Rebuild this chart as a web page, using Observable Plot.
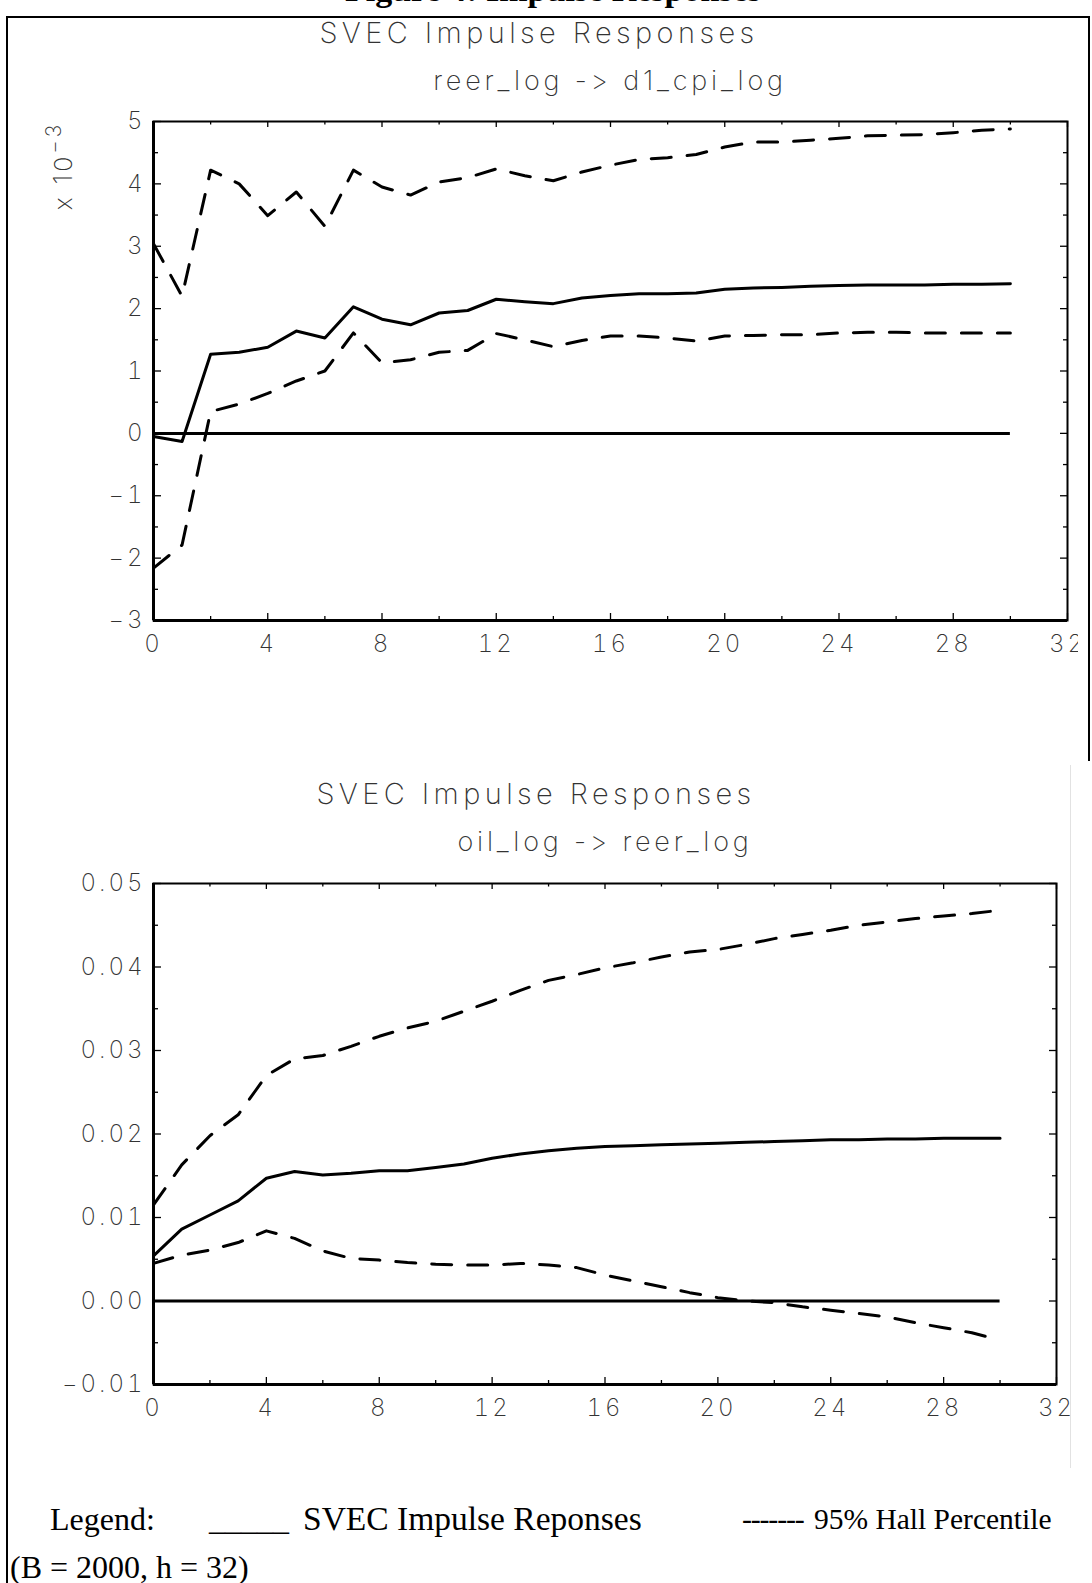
<!DOCTYPE html>
<html>
<head>
<meta charset="utf-8">
<script src="https://cdn.jsdelivr.net/npm/d3@7"></script>
<script src="https://cdn.jsdelivr.net/npm/@observablehq/plot@0.6"></script>
<style>
  html, body { margin: 0; padding: 0; background: #fff; }
  #page { position: relative; width: 1092px; height: 1583px; overflow: hidden; background: #fff; }
  .abs { position: absolute; }
  .top { z-index: 10; }
  .ptxt { font-family: Inter, Roboto, "DejaVu Sans", sans-serif; font-weight: 200; color: #333; white-space: pre; }
  .ctr { text-align: center; }
  .serif { font-family: "Liberation Serif", "DejaVu Serif", serif; color: #000; white-space: pre; }
</style>
</head>
<body>
<div id="page">
  <div class="abs" id="plot1" style="left:0;top:100px;"></div>
  <div class="abs" id="plot2" style="left:0;top:863px;"></div>

  <div class="abs serif top" style="left:345px;top:-27px;font-size:34px;line-height:34px;font-weight:bold;">Figure 4: Impulse Responses</div>
  <div class="abs top" style="left:6px;top:16px;width:1084px;height:0;border-top:2.5px solid #000;"></div>
  <div class="abs top" style="left:6px;top:16px;width:0;height:1583px;border-left:2.5px solid #000;"></div>
  <div class="abs top" style="left:1088px;top:16px;width:0;height:745px;border-left:2.5px solid #000;"></div>
  <div class="abs top" style="left:1070px;top:765px;width:0;height:703px;border-left:1px solid #e2e2e2;"></div>

  <div class="abs ptxt ctr top" id="t1" style="left:239px;width:600px;top:17px;font-size:29px;line-height:32px;letter-spacing:4.4px;"></div>
  <div class="abs ptxt ctr top" id="s1" style="left:310px;width:600px;top:65px;font-size:27px;line-height:32px;letter-spacing:3.8px;"></div>
  <div class="abs ptxt top" id="ylab1" style="left:64px;top:166px;font-size:25px;line-height:26px;letter-spacing:3px;transform:translate(-50%,-50%) rotate(-90deg);">x 10<span style="position:relative;top:-11px;font-size:21px;">−3</span></div>

  <div class="abs ptxt ctr top" id="t2" style="left:236px;width:600px;top:778px;font-size:29px;line-height:32px;letter-spacing:4.4px;"></div>
  <div class="abs ptxt ctr top" id="s2" style="left:305px;width:600px;top:826px;font-size:27px;line-height:32px;letter-spacing:3.8px;"></div>

  <div class="abs serif top" id="lg0" style="left:50px;top:1499px;font-size:32px;line-height:40px;"></div>
  <div class="abs serif top" id="lg1" style="left:209px;top:1499px;font-size:32px;line-height:40px;"></div>
  <div class="abs serif top" id="lg2" style="left:303px;top:1499px;font-size:33.5px;line-height:40px;"></div>
  <div class="abs serif top" id="lg3" style="left:742px;top:1499px;font-size:30px;line-height:40px;letter-spacing:-1.2px;"></div>
  <div class="abs serif top" id="lg4" style="left:814px;top:1499px;font-size:29.5px;line-height:40px;"></div>
  <div class="abs serif top" id="lg5" style="left:10px;top:1547px;font-size:32px;line-height:40px;"></div>
</div>
<script>
// ---------------- data ----------------
const horizons = [0,1,2,3,4,5,6,7,8,9,10,11,12,13,14,15,16,17,18,19,20,21,22,23,24,25,26,27,28,29,30];

// Panel 1: reer_log -> d1_cpi_log (values in units of 10^-3)
const irf1   = [-0.05,-0.13,1.27,1.30,1.38,1.64,1.53,2.03,1.83,1.74,1.93,1.97,2.15,2.11,2.08,2.17,2.21,2.24,2.24,2.25,2.31,2.33,2.34,2.36,2.37,2.38,2.38,2.38,2.39,2.39,2.40];
const upper1 = [3.04,2.20,4.22,4.00,3.49,3.87,3.32,4.22,3.95,3.82,4.03,4.10,4.24,4.13,4.05,4.19,4.30,4.39,4.42,4.47,4.59,4.67,4.67,4.70,4.73,4.77,4.78,4.79,4.82,4.86,4.88];
const lower1 = [-2.16,-1.79,0.35,0.47,0.64,0.84,1.00,1.61,1.13,1.18,1.30,1.33,1.60,1.50,1.39,1.49,1.56,1.56,1.53,1.48,1.56,1.57,1.58,1.58,1.61,1.62,1.62,1.61,1.61,1.61,1.61];

// Panel 2: oil_log -> reer_log
const irf2   = [0.0054,0.0086,0.0103,0.0120,0.0147,0.0155,0.0151,0.0153,0.0156,0.0156,0.0160,0.0164,0.0171,0.0176,0.0180,0.0183,0.0185,0.0186,0.0187,0.0188,0.0189,0.0190,0.0191,0.0192,0.0193,0.0193,0.0194,0.0194,0.0195,0.0195,0.0195];
const upper2 = [0.0115,0.0163,0.0198,0.0223,0.0270,0.0290,0.0294,0.0305,0.0317,0.0327,0.0335,0.0347,0.0359,0.0372,0.0384,0.0391,0.0399,0.0405,0.0412,0.0418,0.0421,0.0427,0.0434,0.0439,0.0444,0.0450,0.0454,0.0458,0.0461,0.0464,0.0468];
const lower2 = [0.0045,0.0055,0.0061,0.0070,0.0084,0.0075,0.0060,0.0051,0.0049,0.0046,0.0044,0.0043,0.0043,0.0045,0.0043,0.0040,0.0031,0.0024,0.0017,0.0010,0.0004,0.0000,-0.0002,-0.0007,-0.0011,-0.0015,-0.0019,-0.0026,-0.0032,-0.0038,-0.0047];

// ticks and labels
const xTickLabels = [0,4,8,12,16,20,24,28,32];
const xTickMarks  = [0,2,4,6,8,10,12,14,16,18,20,22,24,26,28,30,32];
const yTickLabels1 = [-3,-2,-1,0,1,2,3,4,5];
const yTickMarks1  = [-3,-2.5,-2,-1.5,-1,-0.5,0,0.5,1,1.5,2,2.5,3,3.5,4,4.5,5];
const yTickLabels2 = [-0.01,0.00,0.01,0.02,0.03,0.04,0.05];
const yTickMarks2  = [-0.01,-0.005,0,0.005,0.01,0.015,0.02,0.025,0.03,0.035,0.04,0.045,0.05];

const titleText = "SVEC Impulse Responses";
const subtitle1 = "reer_log -> d1_cpi_log";
const subtitle2 = "oil_log -> reer_log";
const legendParts = ["Legend:", "_____", "SVEC Impulse Reponses", "-------", "95% Hall Percentile", "(B = 2000, h = 32)"];

// --------------- drawing ---------------
document.getElementById("t1").textContent = titleText;
document.getElementById("s1").textContent = subtitle1;
document.getElementById("t2").textContent = titleText;
document.getElementById("s2").textContent = subtitle2;
legendParts.forEach((t, i) => document.getElementById("lg" + i).textContent = t);

const rows = (vals) => horizons.map((h, i) => ({h, v: vals[i]}));

function panel({irf, upper, lower, yDomain, yLabels, yMarks, isMajorY, fmt, width, height, mL, mR, mT, mB}) {
  const [x0, x1] = [0, 32];
  const [y0, y1] = yDomain;
  const plotW = width - mL - mR, plotH = height - mT - mB;
  const xu = (x1 - x0) / plotW;   // data units per pixel
  const yu = (y1 - y0) / plotH;
  const isMajorX = d => d % 4 === 0;
  const dash = "20,16";
  const lw = 3;
  return Plot.plot({
    width, height,
    marginLeft: mL, marginRight: mR, marginTop: mT, marginBottom: mB,
    x: {domain: [x0, x1], axis: null},
    y: {domain: [y0, y1], axis: null},
    style: "font-family: Inter, Roboto, 'DejaVu Sans', sans-serif; font-size: 24px; font-weight: 200; letter-spacing: 3px; color: #333; background: transparent; overflow: hidden;",
    marks: [
      Plot.axisX(xTickLabels, {anchor: "bottom", tickSize: 0, tickPadding: 14, label: null, tickFormat: d => String(d)}),
      Plot.axisY(yLabels, {anchor: "left", tickSize: 0, tickPadding: 8, label: null, tickFormat: fmt}),
      // inward tick marks
      Plot.ruleX(xTickMarks, {x: d => d, y1: y0, y2: d => y0 + (isMajorX(d) ? 7 : 4) * yu, stroke: "#000", strokeWidth: 1.3}),
      Plot.ruleX(xTickMarks, {x: d => d, y1: y1, y2: d => y1 - (isMajorX(d) ? 6 : 3.5) * yu, stroke: "#000", strokeWidth: 1.3}),
      Plot.ruleY(yMarks, {y: d => d, x1: x0, x2: d => x0 + (isMajorY(d) ? 8 : 5) * xu, stroke: "#000", strokeWidth: 1.3}),
      Plot.ruleY(yMarks, {y: d => d, x1: x1, x2: d => x1 - (isMajorY(d) ? 7 : 4) * xu, stroke: "#000", strokeWidth: 1.3}),
      Plot.frame({stroke: "#000", strokeWidth: 2}),
      Plot.ruleX([x0], {stroke: "#000", strokeWidth: 3}),
      Plot.ruleY([y0], {stroke: "#000", strokeWidth: 3}),
      Plot.ruleY([0], {x1: 0, x2: 30, stroke: "#000", strokeWidth: lw}),
      Plot.line(rows(upper), {x: "h", y: "v", stroke: "#000", strokeWidth: lw, strokeDasharray: dash}),
      Plot.line(rows(lower), {x: "h", y: "v", stroke: "#000", strokeWidth: lw, strokeDasharray: dash}),
      Plot.line(rows(irf), {x: "h", y: "v", stroke: "#000", strokeWidth: lw})
    ]
  });
}

const fmtMinus = d => d < 0 ? "\u2212" + String(Math.abs(d)) : String(d);
const fmt2 = d => d < 0 ? "\u2212" + Math.abs(d).toFixed(2) : d.toFixed(2);

document.getElementById("plot1").append(panel({
  irf: irf1, upper: upper1, lower: lower1,
  yDomain: [-3, 5], yLabels: yTickLabels1, yMarks: yTickMarks1,
  isMajorY: d => Number.isInteger(d), fmt: fmtMinus,
  width: 1078, height: 580, mL: 153, mR: 11, mT: 21, mB: 60
}));

document.getElementById("plot2").append(panel({
  irf: irf2, upper: upper2, lower: lower2,
  yDomain: [-0.01, 0.05], yLabels: yTickLabels2, yMarks: yTickMarks2,
  isMajorY: d => Math.abs(d * 100 - Math.round(d * 100)) < 1e-9, fmt: fmt2,
  width: 1070, height: 580, mL: 153, mR: 14, mT: 20, mB: 59
}));
</script>
</body>
</html>
